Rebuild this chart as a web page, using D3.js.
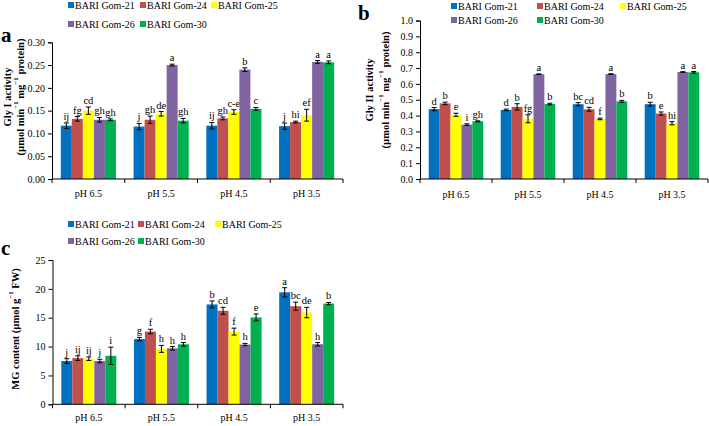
<!DOCTYPE html>
<html><head><meta charset="utf-8">
<script src="https://cdn.jsdelivr.net/npm/d3@7"></script>
<style>body{margin:0;background:#fff}svg{display:block}</style>
</head><body>
<svg id="chart" width="709" height="426"></svg>
<script>
const categories = ["pH 6.5","pH 5.5","pH 4.5","pH 3.5"];
const series = ["BARI Gom-21","BARI Gom-24","BARI Gom-25","BARI Gom-26","BARI Gom-30"];
const colors = ["#0070C0","#C0504D","#FFFF00","#8064A2","#00B050"];

// Panel a: Gly I activity (rows = categories, cols = series)
const glyI = [[0.117,0.132,0.150,0.130,0.130],[0.115,0.130,0.143,0.250,0.128],[0.117,0.133,0.147,0.240,0.154],[0.116,0.125,0.140,0.257,0.256]];
const glyIErr = [[0.006,0.005,0.008,0.005,0.002],[0.007,0.008,0.005,0.002,0.005],[0.007,0.003,0.005,0.004,0.003],[0.007,0.002,0.013,0.003,0.003]];
const glyILetters = [["ij","fg","cd","gh","gh"],["j","gh","de","a","gh"],["ij","gh","c-e","b","c"],["j","hi","ef","a","a"]];
const glyITicks = [0,0.05,0.10,0.15,0.20,0.25,0.30];

// Panel b: Gly II activity
const glyII = [[0.441,0.477,0.405,0.343,0.364],[0.436,0.455,0.380,0.661,0.473],[0.472,0.440,0.379,0.662,0.490],[0.472,0.413,0.352,0.675,0.673]];
const glyIIErr = [[0.010,0.008,0.010,0.005,0.003],[0.005,0.020,0.025,0.002,0.005],[0.010,0.012,0.005,0.002,0.006],[0.012,0.010,0.010,0.002,0.005]];
const glyIILetters = [["d","b","e","i","gh"],["d","b","fg","a","b"],["bc","cd","f","a","b"],["b","e","hi","a","a"]];
const glyIITicks = [0,0.1,0.2,0.3,0.4,0.5,0.6,0.7,0.8,0.9,1.0];

// Panel c: MG content
const mg = [[7.5,8.0,7.9,7.5,8.4],[11.3,12.6,9.6,9.7,10.4],[17.3,16.2,12.6,10.35,15.05],[19.4,17.0,15.9,10.4,17.45]];
const mgErr = [[0.4,0.4,0.3,0.3,1.5],[0.3,0.4,0.6,0.3,0.3],[0.6,0.6,0.6,0.2,0.6],[0.8,0.7,0.9,0.3,0.2]];
const mgLetters = [["j","ij","ij","j","i"],["g","f","h","h","h"],["b","cd","f","h","e"],["a","bc","de","h","b"]];
const mgTicks = [0,5,10,15,20,25];

const svg = d3.select("#chart");
const FONT = "'Liberation Serif','Times New Roman',serif";

function panel(o){
  const g = svg.append("g");
  const x0 = d3.scaleBand().domain(categories).range([o.left,o.right]);
  const bw = x0.bandwidth();
  const x1 = d3.scaleBand().domain(series).range([0,bw]).paddingInner(0).paddingOuter(0.8);
  const y = d3.scaleLinear().domain([0,o.max]).range([o.bottom,o.top]);

  categories.forEach((c,ci)=>{
    const gg = g.append("g").attr("transform",`translate(${x0(c)},0)`);
    series.forEach((s,si)=>{
      const v = o.values[ci][si], e = o.err[ci][si];
      const bx = x1(s), w = x1.bandwidth();
      gg.append("rect").attr("x",bx).attr("y",y(v)).attr("width",w).attr("height",y(0)-y(v)).attr("fill",colors[si]);
      const cx = bx + w/2;
      gg.append("line").attr("x1",cx).attr("x2",cx).attr("y1",y(v+e)).attr("y2",y(v-e)).attr("stroke","#000").attr("stroke-width",1);
      [v+e,v-e].forEach(t=>gg.append("line").attr("x1",cx-2.5).attr("x2",cx+2.5).attr("y1",y(t)).attr("y2",y(t)).attr("stroke","#000").attr("stroke-width",1));
      gg.append("text").attr("x",cx).attr("y",y(v+e)-3).attr("text-anchor","middle")
        .attr("font-family",FONT).attr("font-size",10.5).attr("fill","#000").text(o.letters[ci][si]);
    });
  });

  const ya = g.append("g").attr("transform",`translate(${o.left},0)`)
    .call(d3.axisLeft(y).tickValues(o.ticks).tickFormat(d3.format(o.fmt)).tickSize(4).tickPadding(3));
  ya.select(".domain").attr("stroke","#000");
  ya.selectAll("text").attr("font-family",FONT).attr("font-size",10).attr("fill","#000");

  const xa = g.append("g").attr("transform",`translate(0,${o.bottom})`);
  xa.append("line").attr("x1",o.left).attr("x2",o.right).attr("stroke","#000");
  const bounds = categories.map(c=>x0(c)).concat([o.right]);
  bounds.forEach(b=>xa.append("line").attr("x1",b).attr("x2",b).attr("y1",0).attr("y2",4).attr("stroke","#000"));
  categories.forEach(c=>xa.append("text").attr("x",x0(c)+bw/2).attr("y",o.catY-o.bottom).attr("text-anchor","middle")
    .attr("dominant-baseline","central").attr("font-family",FONT).attr("font-size",10).text(c));

  series.forEach((s,i)=>{
    const p = o.legend[i];
    g.append("rect").attr("x",p[0]).attr("y",p[1]-3).attr("width",6).attr("height",6).attr("fill",colors[i]);
    g.append("text").attr("x",p[0]+7).attr("y",p[1]).attr("dominant-baseline","central")
      .attr("font-family",FONT).attr("font-size",10).text(s);
  });

  o.titles.forEach(t=>{
    const tx = g.append("text").attr("transform",`translate(${t.x},${o.titleY}) rotate(-90)`)
      .attr("text-anchor","middle").attr("dominant-baseline","central")
      .attr("font-family",FONT).attr("font-size",10.5).attr("font-weight","bold");
    t.parts.forEach(p=>{
      const ts = tx.append("tspan").text(p[0]);
      if(p[1]==="sup") ts.attr("font-size",7).attr("baseline-shift","super");
    });
  });

  g.append("text").attr("x",o.letter[0]).attr("y",o.letter[1]).attr("font-family",FONT)
    .attr("font-size",21).attr("font-weight","bold").text(o.letter[2]);
}

const unitParts = [["(µmol min"],["−1","sup"],[" mg"],["−1","sup"],[" protein)"]];
const unitParts2 = [["(µmol min"],["−1","sup"],["  mg"],["−1","sup"],["  protein)"]];

panel({left:52,right:343,top:42.3,bottom:179,max:0.30,values:glyI,err:glyIErr,letters:glyILetters,ticks:glyITicks,fmt:".2f",
  catY:193, legend:[[68,5],[140,5],[211,5],[68,24],[140,24]],
  titles:[{x:7,parts:[["Gly I activity"]]},{x:20,parts:unitParts}], titleY:97, letter:[1,42,"a"]});

panel({left:420,right:708,top:20.5,bottom:179,max:1.0,values:glyII,err:glyIIErr,letters:glyIILetters,ticks:glyIITicks,fmt:".1f",
  catY:194, legend:[[451,6],[537,6],[620,6],[451,20],[537,20]],
  titles:[{x:369,parts:[["Gly II activity"]]},{x:385,parts:unitParts2}], titleY:90, letter:[358,20,"b"]});

panel({left:52.5,right:343,top:260,bottom:404.3,max:25,values:mg,err:mgErr,letters:mgLetters,ticks:mgTicks,fmt:"d",
  catY:418, legend:[[68,224],[138,224],[215,224],[68,241],[138,241]],
  titles:[{x:15,parts:[["MG content (µmol g"],["−1","sup"],[" FW)"]]}], titleY:329, letter:[1,255,"c"]});
</script>
</body></html>
